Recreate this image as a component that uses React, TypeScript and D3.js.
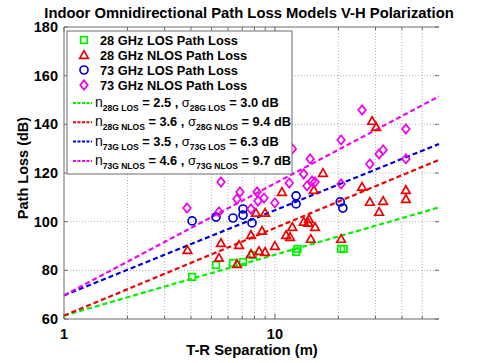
import React from 'react';
import * as d3 from 'd3';

// measured points: [distance (m), path loss (dB)]
const los28: [number, number][] = [
  [4.05, 77.3], [5.26, 82.2], [6.33, 83.0], [7.06, 83.4], [7.87, 86.3],
  [12.6, 87.6], [12.8, 88.8], [20.6, 88.8], [21.2, 88.8],
];
const nlos28: [number, number][] = [
  [3.85, 88.3], [5.55, 91.2], [5.43, 85.1], [6.76, 90.4], [6.61, 82.6],
  [7.7, 86.7], [8.41, 87.9], [8.98, 87.5], [7.7, 94.5], [8.69, 96.2],
  [8.13, 103.6], [8.98, 103.6], [10.0, 90.0], [10.8, 112.2], [11.3, 94.5],
  [11.8, 93.7], [12.1, 97.8], [13.7, 99.9], [14.4, 99.5], [14.5, 101.1],
  [15.5, 97.8], [15.3, 113.0], [14.8, 92.9], [16.9, 120.0], [20.6, 92.9],
  [25.9, 114.3], [28.2, 108.1], [31.2, 104.0], [32.6, 108.5], [41.8, 113.0],
  [41.8, 109.3], [28.9, 141.4], [30.2, 138.9],
];
const los73: [number, number][] = [
  [4.05, 100.3], [5.26, 101.9], [6.33, 101.5], [7.06, 105.2], [7.06, 102.7],
  [7.79, 99.5], [12.6, 110.6], [12.6, 107.3], [20.4, 108.1], [21.0, 105.6],
];
const nlos73: [number, number][] = [
  [3.83, 105.6], [5.55, 116.3], [5.43, 104.0], [6.61, 109.3], [6.83, 112.2],
  [7.7, 105.2], [8.23, 112.2], [8.32, 108.5], [8.88, 109.7], [10.0, 107.7],
  [11.7, 115.9], [12.1, 129.9], [13.7, 119.6], [14.7, 125.8], [14.2, 114.7],
  [15.0, 116.7], [15.5, 116.3], [20.6, 133.6], [20.6, 115.5], [28.2, 123.7],
  [31.2, 127.8], [32.6, 129.5], [25.9, 145.9], [41.8, 138.1], [41.8, 125.8],
];

// fitted models: PL(1m) and path loss exponent
const fitNames = ['28G LOS', '28G NLOS', '73G LOS', '73G NLOS'];
const fitFspl = [61.4, 61.4, 69.7, 69.7];
const fitN = [2.5, 3.6, 3.5, 4.6];
const fitSigma = [3.0, 9.4, 6.3, 9.7];
const colors = ['#00ee00', '#ee0000', '#0000dd', '#ee00ee'];

const legendLabels = [
  '28 GHz LOS Path Loss',
  '28 GHz NLOS Path Loss',
  '73 GHz LOS Path Loss',
  '73 GHz NLOS Path Loss',
];
const yTicks = [60, 80, 100, 120, 140, 160, 180];
const xMajor = [1, 10];
const xMinor = [2, 3, 4, 5, 6, 7, 8, 9, 20, 30, 40, 50];

const W = 485, H = 363;
const font = 'Arial, "Liberation Sans", sans-serif';

const Marker = ({ kind, cx, cy, color }: { kind: number; cx: number; cy: number; color: string }) => {
  const common = { fill: 'none', stroke: color, strokeWidth: 1.7 };
  if (kind === 0) return <rect x={cx - 3.3} y={cy - 3.3} width={6.6} height={6.6} {...common} />;
  if (kind === 1) return <path d={`M${cx},${cy - 4.3}L${cx + 4.3},${cy + 3.3}L${cx - 4.3},${cy + 3.3}Z`} {...common} />;
  if (kind === 2) return <circle cx={cx} cy={cy} r={4} {...common} />;
  return <path d={`M${cx},${cy - 4.6}L${cx + 3.8},${cy}L${cx},${cy + 4.6}L${cx - 3.8},${cy}Z`} {...common} />;
};

export default function App() {
  const x = d3.scaleLog().domain([1, 60]).range([64, 439]);
  const y = d3.scaleLinear().domain([60, 180]).range([319, 27]);
  const [x0, x1] = x.range();
  const [yb, yt] = y.range();

  const series = [los28, nlos28, los73, nlos73];
  const fitPath = (i: number) => {
    const pts = [1, 60].map(d => [d, fitFspl[i] + 10 * fitN[i] * Math.log10(d)]);
    return d3.line<number[]>().x(d => x(d[0])).y(d => y(d[1]))(pts) || '';
  };

  const gridStyle = { stroke: '#b0b0b0', strokeWidth: 1, strokeDasharray: '1,2' };
  const axisColor = '#6a6a6a';

  return (
    <svg width={W} height={H} style={{ position: 'absolute', left: 0, top: 0, background: '#fff' }} fontFamily={font}>
      <rect width={W} height={H} fill="#fff" />
      <text x={249} y={18} textAnchor="middle" fontSize={14.8} fontWeight="bold">
        Indoor Omnidirectional Path Loss Models V-H Polarization
      </text>

      {/* grid */}
      {yTicks.slice(1, -1).map(t => (
        <line key={'gy' + t} x1={x0} x2={x1} y1={y(t)} y2={y(t)} {...gridStyle} />
      ))}
      {[...xMinor, 10].map(t => (
        <line key={'gx' + t} x1={x(t)} x2={x(t)} y1={yb} y2={yt} {...gridStyle} />
      ))}

      {/* fitted lines */}
      {fitNames.map((n, i) => (
        <path key={n} d={fitPath(i)} fill="none" stroke={colors[i]} strokeWidth={2.2} strokeDasharray="5,3" />
      ))}

      {/* data points */}
      {series.map((s, k) =>
        s.map((p, j) => <Marker key={k + '-' + j} kind={k} cx={x(p[0])} cy={y(p[1])} color={colors[k]} />)
      )}

      {/* axes */}
      <line x1={x0} x2={x0} y1={yb} y2={yt} stroke={axisColor} />
      <line x1={x0} x2={x1} y1={yb} y2={yb} stroke={axisColor} />
      <line x1={x0} x2={x1} y1={yt} y2={yt} stroke={axisColor} />
      {yTicks.map(t => (
        <g key={'yt' + t}>
          <line x1={x0} x2={x0 + 4} y1={y(t)} y2={y(t)} stroke={axisColor} />
          <line x1={x1 - 4} x2={x1} y1={y(t)} y2={y(t)} stroke={axisColor} />
          <text x={58} y={y(t) + 5} textAnchor="end" fontSize={14.5} fontWeight="bold">{t}</text>
        </g>
      ))}
      {[...xMajor, ...xMinor].map(t => {
        const len = xMajor.includes(t) ? 5 : 3;
        return (
          <g key={'xt' + t}>
            <line x1={x(t)} x2={x(t)} y1={yb} y2={yb - len} stroke={axisColor} />
            <line x1={x(t)} x2={x(t)} y1={yt} y2={yt + len} stroke={axisColor} />
          </g>
        );
      })}
      {xMajor.map(t => (
        <text key={'xl' + t} x={x(t)} y={339} textAnchor="middle" fontSize={14.5} fontWeight="bold">{t}</text>
      ))}
      <text x={252} y={355} textAnchor="middle" fontSize={14.8} fontWeight="bold">T-R Separation (m)</text>
      <text transform="translate(28,168) rotate(-90)" textAnchor="middle" fontSize={14.5} fontWeight="bold">
        Path Loss (dB)
      </text>

      {/* legend */}
      <rect x={67} y={31} width={225} height={143} fill="#fff" stroke={axisColor} />
      {legendLabels.map((l, i) => {
        const cy = 40 + i * 15;
        return (
          <g key={l}>
            <Marker kind={i} cx={84} cy={cy} color={colors[i]} />
            <text x={100} y={cy + 4.5} fontSize={12.8} fontWeight="bold">{l}</text>
          </g>
        );
      })}
      {fitNames.map((n, i) => {
        const cy = 103 + i * 19.3;
        return (
          <g key={'lf' + n}>
            <line x1={73} x2={92} y1={cy} y2={cy} stroke={colors[i]} strokeWidth={2} strokeDasharray="3,1.5" />
            <text x={95} y={cy + 4} fontSize={12.8} fontWeight="bold">
              <tspan fontSize={14} fontWeight="normal">n</tspan>
              <tspan fontSize={8.5} dy={4}>{n}</tspan>
              <tspan dy={-4}>{` = ${fitN[i].toFixed(1)} , `}</tspan>
              <tspan fontSize={13} fontWeight="normal">σ</tspan>
              <tspan fontSize={8.5} dy={4}>{n}</tspan>
              <tspan dy={-4}>{` = ${fitSigma[i].toFixed(1)} dB`}</tspan>
            </text>
          </g>
        );
      })}
    </svg>
  );
}
